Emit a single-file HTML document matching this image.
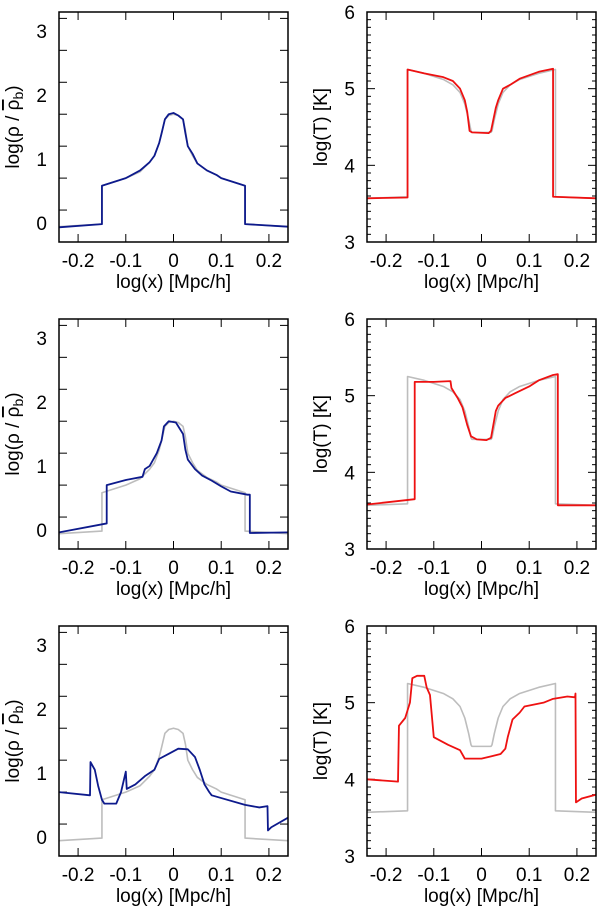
<!DOCTYPE html>
<html><head><meta charset="utf-8">
<style>
body{margin:0;background:#fff;}
svg{display:block;font-family:"Liberation Sans",sans-serif;}
</style></head>
<body>
<svg id="fig" width="600" height="915" viewBox="0 0 600 915" xmlns="http://www.w3.org/2000/svg"></svg>
<script>
// ---- data ----
const xTicks = [-0.2, -0.1, 0, 0.1, 0.2];
const xTickLabels = ["-0.2", "-0.1", "0", "0.1", "0.2"];
const rhoTicks = [0, 1, 2, 3];
const tTicks = [3, 4, 5, 6];

const refRhoX = [-0.24,-0.15,-0.15,-0.1,-0.07,-0.05,-0.04,-0.03,-0.025,-0.018,-0.01,0,0.01,0.02,0.025,0.03,0.04,0.05,0.07,0.09,0.1,0.15,0.15,0.24];
const refRhoY = [-0.06,-0.02,0.58,0.7,0.8,0.95,1.05,1.25,1.4,1.62,1.68,1.7,1.68,1.62,1.45,1.2,1.05,0.93,0.82,0.75,0.7,0.58,-0.02,-0.06];
const refTX = [-0.24,-0.155,-0.155,-0.12,-0.08,-0.06,-0.045,-0.035,-0.027,-0.022,-0.02,0.02,0.022,0.027,0.035,0.045,0.06,0.08,0.12,0.155,0.155,0.24];
const refTY = [3.57,3.59,5.25,5.2,5.12,5.05,4.95,4.8,4.6,4.45,4.43,4.43,4.45,4.6,4.8,4.95,5.05,5.12,5.2,5.25,3.59,3.57];

const rho1X = refRhoX;
const rho1Y = [-0.07,-0.02,0.58,0.7,0.82,0.95,1.05,1.25,1.4,1.62,1.7,1.72,1.68,1.62,1.4,1.2,1.08,0.93,0.82,0.75,0.7,0.58,-0.02,-0.06];
const t1X = [-0.24,-0.155,-0.155,-0.12,-0.08,-0.06,-0.045,-0.035,-0.03,-0.025,-0.02,0.015,0.02,0.03,0.035,0.045,0.06,0.08,0.12,0.15,0.15,0.24];
const t1Y = [3.57,3.58,5.25,5.2,5.15,5.1,5.0,4.85,4.7,4.45,4.43,4.42,4.45,4.75,4.85,5.0,5.05,5.13,5.22,5.26,3.59,3.57];

const rho2X = [-0.24,-0.14,-0.14,-0.1,-0.065,-0.06,-0.05,-0.035,-0.025,-0.02,-0.01,0.005,0.02,0.025,0.03,0.045,0.06,0.08,0.1,0.12,0.155,0.16,0.16,0.24];
const rho2Y = [-0.04,0.1,0.7,0.78,0.83,0.95,1.0,1.2,1.4,1.62,1.7,1.68,1.5,1.25,1.1,0.95,0.85,0.77,0.68,0.6,0.55,0.55,-0.05,-0.04];
const t2X = [-0.24,-0.14,-0.14,-0.1,-0.065,-0.063,-0.05,-0.04,-0.03,-0.022,-0.01,0.01,0.02,0.03,0.035,0.05,0.07,0.1,0.12,0.15,0.16,0.16,0.24];
const t2Y = [3.58,3.65,5.18,5.18,5.19,5.1,4.97,4.85,4.62,4.47,4.43,4.42,4.45,4.8,4.87,4.97,5.03,5.12,5.2,5.27,5.28,3.57,3.57];

const rho3X = [-0.24,-0.175,-0.174,-0.165,-0.158,-0.15,-0.145,-0.12,-0.11,-0.1,-0.098,-0.08,-0.06,-0.04,-0.03,-0.01,0.01,0.03,0.045,0.055,0.065,0.075,0.08,0.15,0.18,0.197,0.198,0.205,0.24];
const rho3Y = [0.7,0.65,1.17,1.05,0.8,0.58,0.52,0.52,0.7,1.02,0.75,0.82,0.95,1.05,1.22,1.3,1.38,1.37,1.25,1.05,0.82,0.7,0.65,0.5,0.46,0.48,0.1,0.15,0.3];
const t3X = [-0.24,-0.175,-0.173,-0.16,-0.15,-0.145,-0.135,-0.12,-0.115,-0.108,-0.1,-0.07,-0.045,-0.035,0,0.02,0.04,0.05,0.055,0.065,0.08,0.09,0.13,0.15,0.18,0.196,0.197,0.198,0.21,0.24];
const t3Y = [4.0,3.97,4.7,4.8,5.0,5.32,5.35,5.35,5.2,5.1,4.55,4.45,4.38,4.27,4.27,4.3,4.33,4.4,4.55,4.78,4.87,4.95,5.0,5.05,5.08,5.07,5.12,3.7,3.75,3.8];

const rows = [
  {rhoX: rho1X, rhoY: rho1Y, tX: t1X, tY: t1Y},
  {rhoX: rho2X, rhoY: rho2Y, tX: t2X, tY: t2Y},
  {rhoX: rho3X, rhoY: rho3Y, tX: t3X, tY: t3Y}
];

const NS = "http://www.w3.org/2000/svg";
const svg = document.getElementById("fig");
function mk(tag, attrs, parent) {
  const e = document.createElementNS(NS, tag);
  for (const k in attrs) e.setAttribute(k, attrs[k]);
  (parent || svg).appendChild(e);
  return e;
}

function panel(px, py, w, h, ymin, ymax, yTicks, minorStep, isRho, refX, refY, sx, sy, color, name) {
  const g = mk("g", {});
  
  
  const X = v => px + (v + 0.24) / 0.48 * w;
  const Y = v => py + h - (v - ymin) / (ymax - ymin) * h;
  const mg = mk("g", {stroke: "#000", "stroke-width": 1}, g);
  
  
  for (let v = ymin; v <= ymax + 1e-9; v += minorStep) {
    const r = Math.round(v * 1000) / 1000;
    if (r < ymin - 1e-9) continue;
    const y = Y(r);
    const major = yTicks.some(t => Math.abs(t - r) < 1e-6);
    const len = major ? 8 : (isRho ? 8 : 4);
    mk("line", {x1: px, x2: px + len, y1: y, y2: y}, mg);
    mk("line", {x1: px + w, x2: px + w - len, y1: y, y2: y}, mg);
  }
  xTicks.forEach((t, i) => {
    const x = X(t);
    mk("line", {x1: x, x2: x, y1: py + h, y2: py + h - 8, stroke: "#000"}, g);
    mk("line", {x1: x, x2: x, y1: py, y2: py + 8, stroke: "#000"}, g);
    const tl = mk("text", {x: x, y: py + h + 25, "text-anchor": "middle", "font-size": 19}, g);
    
    
    tl.textContent = xTickLabels[i];
  });
  yTicks.forEach(t => {
    const tl = mk("text", {x: px - 12, y: Y(t) + 7, "text-anchor": "end", "font-size": 19}, g);
    
    
    tl.textContent = String(t);
  });
  const cid = "c" + name;
  const cp = mk("clipPath", {id: cid}, g);
  mk("rect", {x: px, y: py, width: w, height: h}, cp);
  const line = (xs, ys, col, sw, nm) => {
    const d = xs.map((v, i) => (i ? "L" : "M") + X(v).toFixed(2) + "," + Y(ys[i]).toFixed(2)).join("");
    const p = mk("path", {d: d, fill: "none", stroke: col, "stroke-width": sw, "clip-path": "url(#" + cid + ")", "stroke-linejoin": "round"}, g);
    
    
  };
  line(refX, refY, "#bdbdbd", 1.6, "reference-line");
  line(sx, sy, color, 1.8, "simulation-line");
  const fr = mk("rect", {x: px, y: py, width: w, height: h, fill: "none", stroke: "#000", "stroke-width": 1.5}, g);
  
  
  const xt = mk("text", {x: px + w / 2, y: py + h + 46, "text-anchor": "middle", "font-size": 19}, g);
  
  
  xt.textContent = "log(x) [Mpc/h]";
  const cy = py + h / 2;
  const tx = isRho ? 19 : px - 40;
  const yt = mk("text", {x: tx, y: cy, "text-anchor": "middle", "font-size": 19, transform: "rotate(-90 " + tx + " " + cy + ")"}, g);
  
  
  if (isRho) {
    yt.innerHTML = 'log(ρ / <tspan text-decoration="overline">ρ</tspan><tspan font-size="14" dy="4">b</tspan><tspan dy="-4">)</tspan>';
  } else {
    yt.textContent = "log(T) [K]";
  }
}

const tops = [12, 319, 626];
rows.forEach((r, i) => {
  panel(59, tops[i], 229, 230, -0.3, 3.3, rhoTicks, 0.5, true, refRhoX, refRhoY, r.rhoX, r.rhoY, "#0d1a8c", "density-panel-" + (i + 1));
  panel(367, tops[i], 229, 230, 3, 6, tTicks, 0.1, false, refTX, refTY, r.tX, r.tY, "#ee1111", "temperature-panel-" + (i + 1));
});
</script>
</body></html>
